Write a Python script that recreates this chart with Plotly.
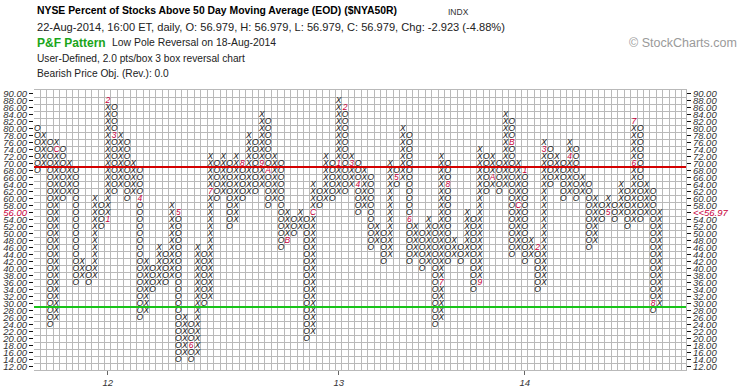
import plotly.graph_objects as go

# ---------------- data ----------------
# P&F columns, alternating, first column is an O column. Box size 2.0
col_lows = [68, 70, 24, 26, 60, 62, 36, 38, 36, 38, 52, 54, 62, 64, 60, 62, 26, 28, 34, 36,
            36, 38, 14, 16, 14, 16, 30, 32, 60, 62, 52, 54, 60, 62, 62, 64, 58, 60, 46, 48,
            50, 52, 20, 22, 58, 60, 60, 62, 62, 64, 56, 58, 46, 48, 42, 44, 64, 66, 42, 44,
            40, 42, 24, 26, 42, 44, 42, 44, 34, 36, 62, 64, 62, 64, 44, 46, 42, 44, 34, 36,
            64, 66, 60, 62, 60, 62, 46, 48, 54, 56, 54, 56, 52, 54, 54, 56, 28, 30]
col_highs = [80, 78, 76, 76, 74, 70, 68, 42, 40, 60, 58, 88, 86, 78, 76, 70, 68, 42, 40, 46,
             44, 58, 56, 26, 24, 46, 44, 72, 70, 72, 70, 72, 70, 78, 76, 84, 82, 72, 70, 56,
             54, 56, 54, 64, 62, 72, 70, 88, 86, 72, 70, 68, 66, 52, 50, 70, 68, 80, 78, 52,
             50, 54, 52, 72, 70, 48, 46, 56, 54, 74, 72, 72, 70, 84, 82, 70, 68, 48, 46, 76,
             74, 72, 70, 76, 74, 66, 64, 60, 58, 60, 58, 64, 62, 82, 80, 64, 62, 56]
first_col_type = "O"

# month markers (column number, box value, month code)
mark_cols = [4, 12, 12, 13, 17, 23, 25, 28, 33, 36, 37, 40, 44, 48, 49, 50, 51, 57, 59, 64,
             65, 70, 72, 75, 76, 77, 79, 80, 84, 90, 94, 94, 97]
mark_vals = [74, 54, 88, 78, 60, 56, 18, 62, 70, 70, 68, 48, 56, 70, 86, 70, 64, 66, 54, 36,
             64, 36, 66, 76, 58, 68, 46, 74, 72, 56, 70, 82, 30]
mark_text = ["C", "1", "2", "3", "4", "5", "6", "7", "8", "9", "A", "B", "C", "1", "2", "3", "4", "5", "6", "7",
             "8", "9", "A", "B", "C", "1", "2", "3", "4", "5", "6", "7", "8"]

year_labels = ["12", "13", "14"]
price_levels = list(range(12, 92, 2))
last_close = 56.979
upper_level = 69   # red reference line (70 %)
lower_level = 29   # green reference line (30 %)

# ---------------- figure geometry ----------------
W, H = 745, 391
L, T, B = 34.3, 89.6, 20.6
PITCH = 6.417                      # px per column
GRID_RIGHT = 686.5                 # px, right edge of the grid
X_END = 0.5 + (GRID_RIGHT - L) / PITCH
R = W - GRID_RIGHT
PW, PH = W - L - R, H - T - B


def px2x(px):
    return (px - L) / PW


def py2y(py):
    return 1 - (py - T) / PH


marks = {(c, v): t for c, v, t in zip(mark_cols, mark_vals, mark_text)}
xs_x, ys_x, xs_o, ys_o = [], [], [], []
for i, (lo, hi) in enumerate(zip(col_lows, col_highs)):
    c = i + 1
    is_o = (i % 2 == 0) == (first_col_type == "O")
    for v in range(lo, hi + 1, 2):
        if (c, v) in marks:
            continue
        if is_o:
            xs_o.append(c); ys_o.append(v)
        else:
            xs_x.append(c); ys_x.append(v)

FAM = "Liberation Sans, Arial, sans-serif"
glyph_font = dict(family=FAM, size=8.5, color="#1a1a1a", style="italic")

fig = go.Figure()
fig.add_trace(go.Scatter(x=xs_x, y=ys_x, mode="text", text=["X"] * len(xs_x),
                         textfont=glyph_font, textposition="middle center", hoverinfo="skip"))
fig.add_trace(go.Scatter(x=xs_o, y=ys_o, mode="text", text=["O"] * len(xs_o),
                         textfont=glyph_font, textposition="middle center", hoverinfo="skip"))
fig.add_trace(go.Scatter(x=mark_cols, y=mark_vals, mode="text", text=mark_text,
                         textfont=dict(family=FAM, size=8.5, color="#c8003c", style="italic"),
                         textposition="middle center", hoverinfo="skip"))
fig.add_trace(go.Scatter(x=[None], y=[None], yaxis="y2", showlegend=False, hoverinfo="skip"))

# tick labels
close_box = int(last_close // 2 * 2)
left_text, right_text = [], []
for v in price_levels:
    if v == close_box:
        left_text.append("<span style='color:#c8003c'>%.2f</span>" % v)
        right_text.append("<span style='color:#c8003c'>&lt;&lt;%.2f</span>" % (int(last_close * 100) / 100))
    else:
        left_text.append("%.2f" % v)
        right_text.append("%.2f" % v)

year_cols = [c for c, t in zip(mark_cols, mark_text) if t == "1"]

grid_col = "#b9b9b9"
tick_font = dict(family=FAM, size=9.5, color="#333333", style="italic")

fig.update_layout(
    width=W, height=H, autosize=False,
    margin=dict(l=L, r=R, t=T, b=B, pad=0, autoexpand=False),
    paper_bgcolor="white", plot_bgcolor="white",
    showlegend=False,
    xaxis=dict(range=[0.5, X_END], showgrid=False, zeroline=False, automargin=False,
               tickmode="array", tickvals=year_cols, ticktext=year_labels,
               ticks="outside", ticklen=4, tickcolor="#666", tickfont=tick_font,
               minor=dict(tickmode="array", tickvals=[k + 0.5 for k in range(0, int(X_END) + 1)],
                          showgrid=True, gridcolor=grid_col, gridwidth=1, ticks=""),
               showline=True, mirror=True, linecolor=grid_col, linewidth=1, fixedrange=True),
    yaxis=dict(range=[11, 91], showgrid=False, zeroline=False, automargin=False,
               tickmode="array", tickvals=price_levels, ticktext=left_text,
               ticks="outside", ticklen=4, tickcolor="#111", tickfont=tick_font,
               minor=dict(tickmode="array", tickvals=list(range(11, 93, 2)),
                          showgrid=True, gridcolor=grid_col, gridwidth=1, ticks=""),
               showline=False, fixedrange=True),
    yaxis2=dict(range=[11, 91], overlaying="y", side="right", showgrid=False, zeroline=False,
                automargin=False,
                tickmode="array", tickvals=price_levels, ticktext=right_text,
                ticks="outside", ticklen=4, tickcolor="#111", tickfont=tick_font,
                showline=True, linecolor=grid_col, linewidth=1, fixedrange=True),
)

fig.add_shape(type="line", xref="paper", yref="y", x0=0, x1=1, y0=upper_level, y1=upper_level,
              line=dict(color="#d40000", width=2))
fig.add_shape(type="line", xref="paper", yref="y", x0=0, x1=1, y0=lower_level, y1=lower_level,
              line=dict(color="#19c419", width=2))

ann = [
    dict(x=px2x(35), y=py2y(10), text="<b>NYSE Percent of Stocks Above 50 Day Moving Average (EOD) ($NYA50R)</b>",
         font=dict(family=FAM, size=10.4, color="black")),
    dict(x=px2x(446), y=py2y(11), text="INDX",
         font=dict(family=FAM, size=8.5, color="#333")),
    dict(x=px2x(35), y=py2y(26),
         text="22-Aug-2014, 16:00 ET, daily, O: 56.979, H: 56.979, L: 56.979, C: 56.979, Chg: -2.923 (-4.88%)",
         font=dict(family=FAM, size=11.1, color="#222")),
    dict(x=px2x(35), y=py2y(42), text="<b>P&amp;F Pattern</b>",
         font=dict(family=FAM, size=12, color="#1aa51a")),
    dict(x=px2x(110), y=py2y(42), text="Low Pole Reversal on 18-Aug-2014",
         font=dict(family=FAM, size=10.4, color="#222")),
    dict(x=px2x(35), y=py2y(58), text="User-Defined, 2.0 pts/box 3 box reversal chart",
         font=dict(family=FAM, size=10.2, color="#222")),
    dict(x=px2x(35), y=py2y(73), text="Bearish Price Obj. (Rev.): 0.0",
         font=dict(family=FAM, size=10.2, color="#222")),
    dict(x=px2x(740), y=py2y(42), text="© StockCharts.com", xanchor="right",
         font=dict(family=FAM, size=12.5, color="#9a9a9a")),
]
for a in ann:
    a.setdefault("xanchor", "left")
    fig.add_annotation(xref="paper", yref="paper", yanchor="middle", showarrow=False, **a)

fig.write_html("out.html", config={"displayModeBar": False, "staticPlot": True},
               post_script="document.body.style.margin='0px';document.body.style.overflow='hidden';")
